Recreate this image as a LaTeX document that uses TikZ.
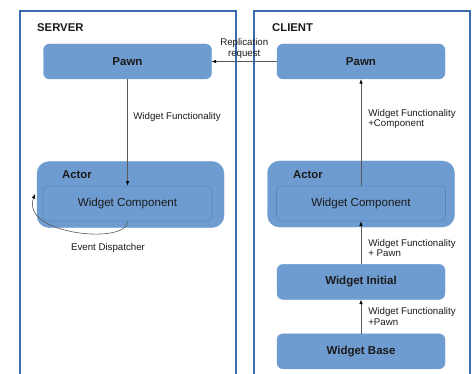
\documentclass[tikz,border=0pt]{standalone}
\usepackage{fontspec}
\setmainfont{Liberation Sans}
\usetikzlibrary{positioning, arrows.meta}
\definecolor{frameblue}{HTML}{3A6BAF}
\definecolor{boxblue}{HTML}{6F9CD0}
\definecolor{edgeblue}{HTML}{5A86C0}
\definecolor{wire}{HTML}{5A5A5A}
\definecolor{ink}{HTML}{1A1A1A}

\begin{document}
\begin{tikzpicture}[x=1pt, y=-1pt,
  every node/.style={text=ink},
  frm/.style={draw=frameblue, line width=2pt},
  ttl/.style={font=\fontsize{11.3}{13}\selectfont\bfseries, anchor=west, inner sep=0pt},
  blk/.style={rectangle, rounded corners=6pt, fill=boxblue, draw=boxblue,
              minimum width=168pt, minimum height=35pt, inner sep=0pt,
              font=\fontsize{11.5}{13}\selectfont\bfseries},
  act/.style={rectangle, rounded corners=12pt, fill=boxblue, draw=boxblue,
              minimum width=187pt, minimum height=66pt, inner sep=0pt},
  cmp/.style={rectangle, rounded corners=5pt, fill=boxblue, draw=edgeblue,
              line width=0.6pt, minimum width=169pt, minimum height=35pt,
              inner sep=0pt, font=\fontsize{11.6}{13}\selectfont},
  lbl/.style={font=\fontsize{9.7}{10.5}\selectfont, align=left, inner sep=1pt},
  arr/.style={-{Latex[length=4.5pt, width=3.5pt, color=black]}, draw=wire,
              line width=0.6pt}
]
\useasboundingbox (0,0) rectangle (476,374);

% --- frames (open at the bottom) ---
\draw[frm] (20,380) |- (236,11) -- (236,380);
\draw[frm] (254,380) |- (470,11) -- (470,380);
\node[ttl] (srv) at (37,28) {SERVER};
\node[ttl] (cli) at (272,28) {CLIENT};

% --- SERVER side ---
\node[blk] (pawnS) at (127.5,61.5) {Pawn};
\node[act] (actS) at (130.5,194.5) {};
\node[ttl] (actSt) at (62,175) {Actor};
\node[cmp] (cmpS) at (127.5,203.5) {Widget Component};
\coordinate (evtEnd) at (35,194);

% --- CLIENT side ---
\node[blk] (pawnC) at (361,61.5) {Pawn};
\node[act] (actC) at (361,194) {};
\node[ttl] (actCt) at (293,175) {Actor};
\node[cmp] (cmpC) at (361,203.5) {Widget Component};
\node[blk, below=37pt of actC] (wInit) {Widget Initial};
\node[blk, below=34pt of wInit] (wBase) {Widget Base};

% --- arrows ---
\draw[arr] (pawnC.west) -- node[lbl, align=center, above=2pt] {Replication\\request} (pawnS.east);
\draw[arr] (pawnS.south) -- node[lbl, pos=0.355, right=4.5pt] {Widget Functionality} (cmpS.north);
\draw[arr] (cmpS.south) .. controls (128,245) and (20,235) .. (evtEnd);
\node[lbl] (evtL) at (108,248) {Event Dispatcher};

\draw[arr] (cmpC.north) -- node[lbl, pos=0.626, right=6pt] {Widget Functionality\\+Component} (pawnC.south);
\draw[arr] (wInit.north) -- node[lbl, pos=0.38, right=6pt] {Widget Functionality\\+ Pawn} (cmpC.south);
\draw[arr] (wBase.north) -- node[lbl, midway, right=6pt] {Widget Functionality\\+Pawn} (wInit.south);
\end{tikzpicture}
\end{document}
